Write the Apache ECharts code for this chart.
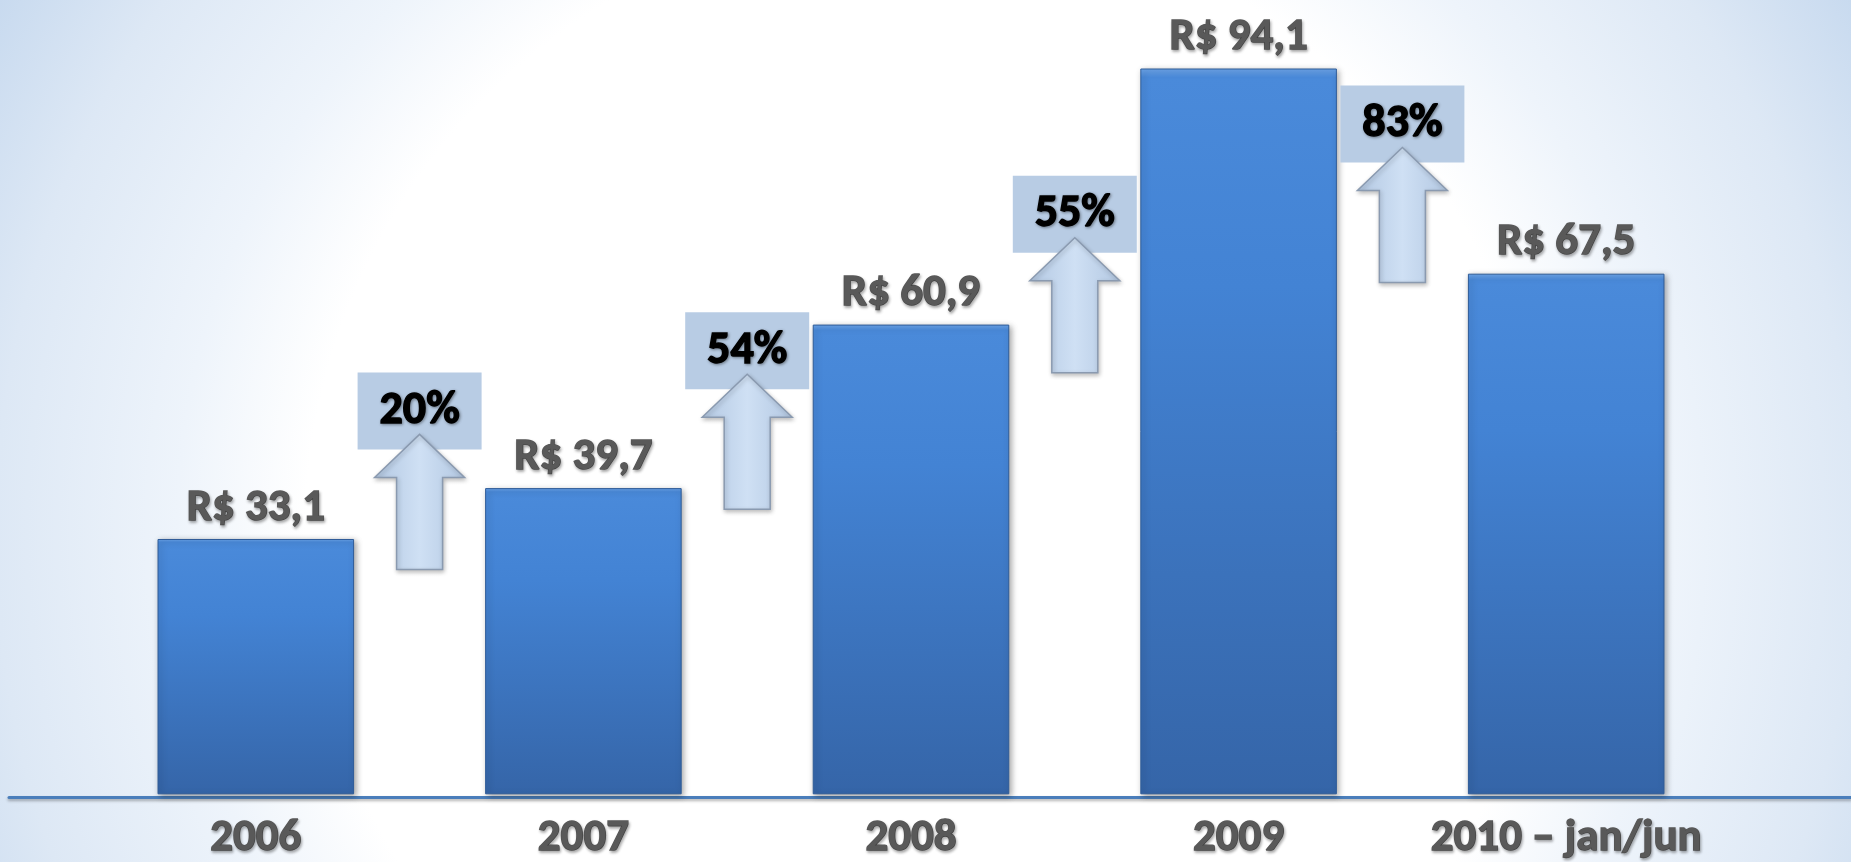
<!DOCTYPE html>
<html>
<head>
<meta charset="utf-8">
<script src="https://cdn.jsdelivr.net/npm/echarts@6/dist/echarts.min.js"></script>
<style>
html, body { margin: 0; padding: 0; }
#chart { width: 1851px; height: 862px; }
</style>
</head>
<body>
<div id="chart"></div>
<script>
// data
const years = ['2006', '2007', '2008', '2009', '2010 – jan/jun']
const values = [33.1, 39.7, 60.9, 94.1, 67.5]
const growth = [20, 54, 55, 83]

// placement of the growth boxes (top edge, in value-axis units)
const growthBoxTop = [54.7, 62.5, 80.2, 91.9]

const FONT = 'Carlito, Lato, "Open Sans", sans-serif'
const GRID = { left: 92, right: 121, top: 23, bottom: 65 }

const chart = echarts.init(document.getElementById('chart'))

function renderArrow(params, api) {
  const i = api.value(0)
  const x0 = api.coord([i, 0])[0]
  const x1 = api.coord([i + 1, 0])[0]
  const cx = (x0 + x1) / 2
  const top = api.coord([i, growthBoxTop[params.dataIndex]])[1]
  const t = top + 62 // arrow tip
  return {
    type: 'group',
    children: [
      {
        type: 'rect',
        shape: { x: cx - 62, y: top, width: 124, height: 77 },
        style: { fill: '#b8cce4' }
      },
      {
        type: 'polygon',
        shape: {
          points: [
            [cx, t], [cx + 45, t + 43], [cx + 23, t + 43], [cx + 23, t + 135],
            [cx - 23, t + 135], [cx - 23, t + 43], [cx - 45, t + 43]
          ]
        },
        style: {
          fill: new echarts.graphic.LinearGradient(0, 0, 1, 0, [
            { offset: 0, color: '#b3c8e2' },
            { offset: 0.5, color: '#cfe0f4' },
            { offset: 1, color: '#b3c8e2' }
          ]),
          stroke: '#8a9ab0',
          lineWidth: 1.5,
          shadowColor: 'rgba(0,0,0,0.25)',
          shadowBlur: 4,
          shadowOffsetX: 1,
          shadowOffsetY: 2
        }
      },
      {
        type: 'text',
        x: cx,
        y: top + 39,
        style: {
          text: api.value(1) + '%',
          fill: '#000',
          font: 'bold 46px ' + FONT,
          align: 'center',
          verticalAlign: 'middle',
          stroke: '#000',
          lineWidth: 1.4,
          textShadowColor: 'rgba(0,0,0,0.35)',
          textShadowBlur: 3,
          textShadowOffsetX: 1,
          textShadowOffsetY: 1
        }
      }
    ]
  }
}

const grayText = {
  color: '#595959',
  fontWeight: 'bold',
  fontFamily: FONT,
  textBorderColor: '#595959',
  textBorderWidth: 1.4,
  textShadowColor: 'rgba(0,0,0,0.3)',
  textShadowBlur: 3,
  textShadowOffsetX: 1,
  textShadowOffsetY: 2
}

const option = {
  backgroundColor: {
    type: 'radial',
    x: 0.5,
    y: 0.62,
    r: 1.24,
    colorStops: [
      { offset: 0, color: '#ffffff' },
      { offset: 0.58, color: '#ffffff' },
      { offset: 0.7, color: '#eef4fb' },
      { offset: 0.87, color: '#dde8f5' },
      { offset: 1, color: '#c8daef' }
    ]
  },
  animation: false,
  grid: [
    GRID,
    { left: 9, right: 0, top: GRID.top, bottom: GRID.bottom }
  ],
  xAxis: [
    {
      type: 'category',
      data: years,
      gridIndex: 0,
      axisLine: { show: false },
      axisTick: { show: false },
      axisLabel: Object.assign({ interval: 0, margin: 22, fontSize: 45 }, grayText)
    },
    {
      type: 'value',
      gridIndex: 1,
      min: 0,
      max: 1,
      axisLine: {
        show: true,
        onZero: false,
        lineStyle: {
          color: '#4a7ebb',
          width: 3,
          shadowColor: 'rgba(0,0,0,0.3)',
          shadowBlur: 3,
          shadowOffsetY: 2
        }
      },
      axisTick: { show: false },
      axisLabel: { show: false },
      splitLine: { show: false }
    }
  ],
  yAxis: [
    { type: 'value', gridIndex: 0, min: 0, max: 100, show: false },
    { type: 'value', gridIndex: 1, min: 0, max: 1, show: false }
  ],
  series: [
    {
      type: 'bar',
      data: values,
      barWidth: '60%',
      itemStyle: {
        color: new echarts.graphic.LinearGradient(0, 0, 0, 1, [
          { offset: 0, color: '#6ea6ea' },
          { offset: 0.012, color: '#4a8ada' },
          { offset: 0.3, color: '#4383d4' },
          { offset: 1, color: '#3565a8' }
        ]),
        borderColor: '#2f5c98',
        borderWidth: 1,
        shadowColor: 'rgba(0,0,0,0.35)',
        shadowBlur: 6,
        shadowOffsetX: 2,
        shadowOffsetY: 2
      },
      label: Object.assign({
        show: true,
        position: 'top',
        distance: 8,
        fontSize: 45,
        formatter: p => 'R$ ' + p.value.toFixed(1).replace('.', ',')
      }, grayText)
    },
    {
      type: 'custom',
      clip: false,
      data: growth.map((g, i) => [i, g]),
      renderItem: renderArrow,
      z: 3
    }
  ]
}

chart.setOption(option)
</script>
</body>
</html>
